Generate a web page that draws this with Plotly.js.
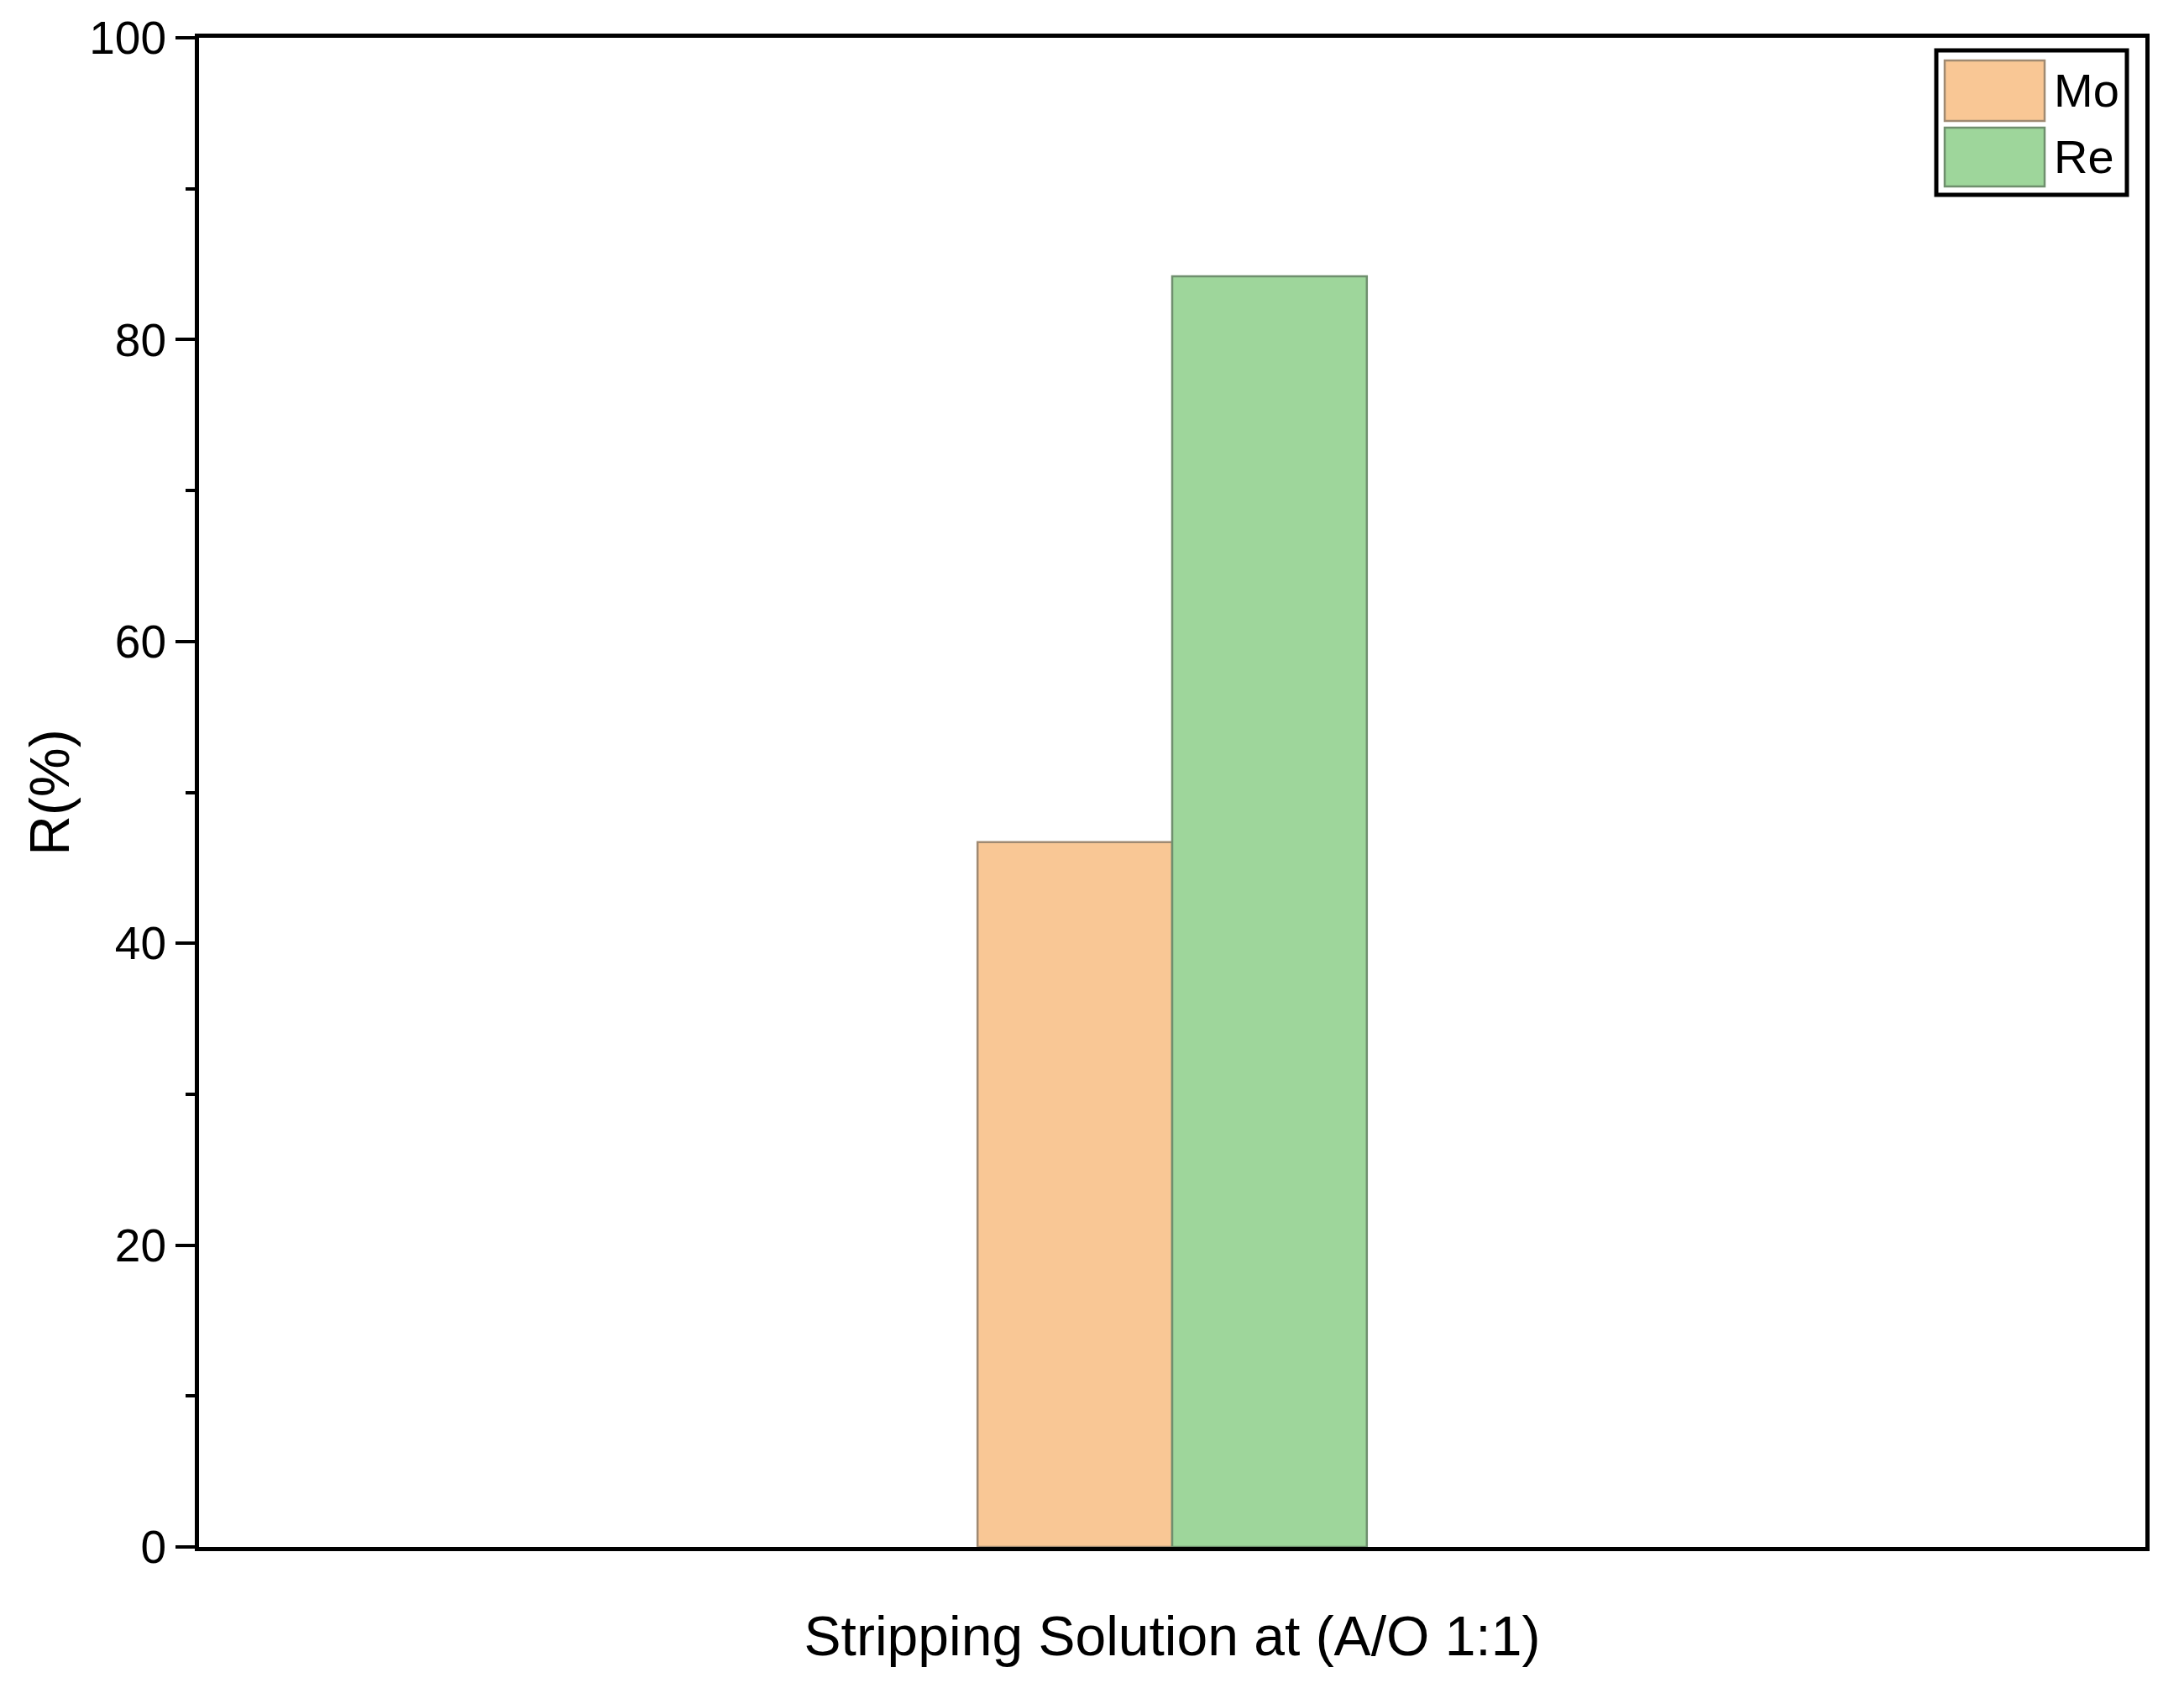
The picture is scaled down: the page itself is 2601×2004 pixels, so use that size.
<!DOCTYPE html>
<html>
<head>
<meta charset="utf-8">
<script src="https://cdn.plot.ly/plotly-3.0.1.min.js"></script>
<style>
  html, body { margin: 0; padding: 0; background: #fff; }
  #plot { width: 2601px; height: 2004px; }
</style>
</head>
<body>
<div id="plot"></div>
<script>
// single category on the x axis
const categories = ["A/O 1:1"];
const seriesNames = ["Mo", "Re"];
const moValues = [46.7];
const reValues = [84.2];

const fillColors = ["#f9c795", "#9ed69b"];
const edgeColors = ["#a08a72", "#6f8f6e"];

const font = "'Liberation Sans', Arial, sans-serif";

// plot area in pixels
const W = 2601, H = 2004;
const margin = { l: 237, r: 46, t: 45, b: 162 };
const plotW = W - margin.l - margin.r;
const plotH = H - margin.t - margin.b;
const px = (x) => (x - margin.l) / plotW;
const py = (y) => (H - margin.b - y) / plotH;

const values = [moValues, reValues];
const data = seriesNames.map((name, i) => ({
  type: "bar",
  name: name,
  x: categories,
  y: values[i],
  marker: { color: fillColors[i], line: { color: edgeColors[i], width: 2.5 } },
  showlegend: false
}));

// hand-made legend with large swatches, like the original
const shapes = [{
  type: "rect", xref: "paper", yref: "paper",
  x0: px(2306), x1: px(2533), y0: py(232), y1: py(60),
  line: { color: "black", width: 5 }, fillcolor: "white"
}];
const annotations = [];
const rows = [[72, 144], [152, 222]];
seriesNames.forEach((name, i) => {
  const [top, bottom] = rows[i];
  shapes.push({
    type: "rect", xref: "paper", yref: "paper",
    x0: px(2316), x1: px(2435), y0: py(bottom), y1: py(top),
    line: { color: edgeColors[i], width: 2.5 }, fillcolor: fillColors[i]
  });
  annotations.push({
    xref: "paper", yref: "paper", x: px(2444), y: py((top + bottom) / 2),
    xanchor: "left", yanchor: "middle", showarrow: false,
    text: name, font: { family: font, size: 56, color: "black" }
  });
});

const layout = {
  width: W, height: H,
  margin: margin,
  paper_bgcolor: "white", plot_bgcolor: "white",
  barmode: "group",
  bargap: 0.8,
  bargroupgap: 0,
  showlegend: false,
  xaxis: {
    type: "category",
    range: [-0.5, 0.5],
    showticklabels: false,
    ticks: "",
    showgrid: false, zeroline: false,
    showline: true, linecolor: "black", linewidth: 5, mirror: true,
    title: { text: "Stripping Solution at (A/O 1:1)", font: { family: font, size: 66, color: "black" }, standoff: 80 }
  },
  yaxis: {
    range: [0, 100],
    dtick: 20,
    ticks: "outside", ticklen: 23, tickwidth: 4, tickcolor: "black",
    minor: { dtick: 10, ticks: "outside", ticklen: 11, tickwidth: 4, tickcolor: "black" },
    tickfont: { family: font, size: 55, color: "black" },
    showgrid: false, zeroline: false,
    showline: true, linecolor: "black", linewidth: 5, mirror: true,
    title: { text: "R(%)", font: { family: font, size: 66, color: "black" }, standoff: 4 }
  },
  shapes: shapes,
  annotations: annotations
};

Plotly.newPlot("plot", data, layout, { displayModeBar: false, staticPlot: true });
</script>
</body>
</html>
